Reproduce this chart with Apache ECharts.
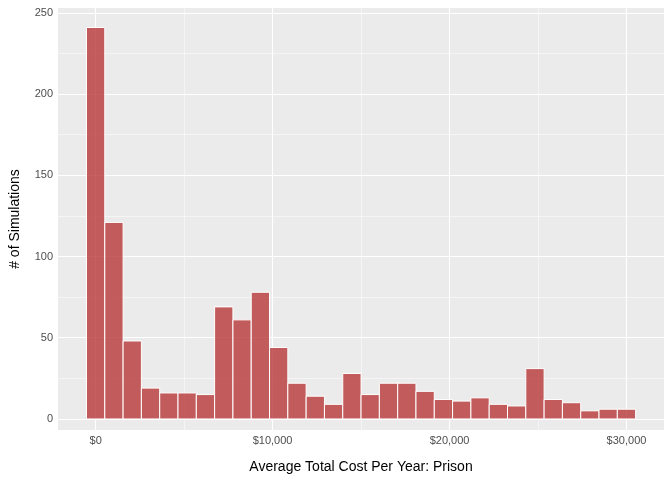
<!DOCTYPE html>
<html><head><meta charset="utf-8">
<script src="https://cdn.jsdelivr.net/npm/echarts@6/dist/echarts.min.js"></script>
<style>html,body{margin:0;background:#fff}#c{width:672px;height:480px}</style>
</head><body><div id="c"></div>
<script>
// histogram counts, one per bin
const counts = [241,121,48,19,16,16,15,69,61,78,44,22,14,9,28,15,22,22,17,12,11,13,9,8,31,12,10,5,6,6];
const binCenters = counts.map((_, i) => i * 30000 / 29);
const binWidth = 30000 / 29;
const xTicks = [0, 10000, 20000, 30000];
const xMinor = [5000, 15000, 25000];
const yTicks = [0, 50, 100, 150, 200, 250];
const yMinor = [25, 75, 125, 175, 225];

const fmt = v => '$' + v.toLocaleString('en-US');
const lines = (axis, vals, w) => vals.map(v => ({[axis]: v, lineStyle: {color: '#fff', width: w, type: 'solid'}}));

let chart = echarts.init(document.getElementById('c'));
chart.setOption({
	animation: false,
	backgroundColor: '#fff',
	grid: {left: 52, right: 8, top: 8, bottom: 50, show: true, backgroundColor: '#EBEBEB', borderWidth: 0},
	xAxis: {
		type: 'value', min: -2127, max: 32120,
		name: 'Average Total Cost Per Year: Prison', nameLocation: 'middle', nameGap: 30,
		nameTextStyle: {color: '#000', fontSize: 14, fontFamily: 'Liberation Sans'},
		axisLine: {show: false}, splitLine: {show: false},
		axisTick: {customValues: xTicks, length: 3, lineStyle: {color: '#333'}},
		axisLabel: {customValues: xTicks, formatter: fmt, color: '#4D4D4D', fontSize: 11, margin: 5, fontFamily: 'Liberation Sans'}
	},
	yAxis: {
		type: 'value', min: -6.8, max: 253,
		name: '# of Simulations', nameLocation: 'middle', nameGap: 36,
		nameTextStyle: {color: '#000', fontSize: 14, fontFamily: 'Liberation Sans'},
		axisLine: {show: false}, splitLine: {show: false},
		axisTick: {customValues: yTicks, length: 3, lineStyle: {color: '#333'}},
		axisLabel: {customValues: yTicks, color: '#4D4D4D', fontSize: 11, margin: 5, fontFamily: 'Liberation Sans'}
	},
	series: [{
		type: 'custom',
		data: counts.map((v, i) => [binCenters[i], v]),
		renderItem: (params, api) => {
			const c = api.value(0), v = api.value(1);
			const p1 = api.coord([c - binWidth / 2, v]);
			const p2 = api.coord([c + binWidth / 2, 0]);
			return {type: 'rect', shape: {x: p1[0], y: p1[1], width: p2[0] - p1[0], height: p2[1] - p1[1]},
				style: {fill: 'rgba(178,34,34,0.72)', stroke: '#fff', lineWidth: 1}};
		},
		z: 3,
		markLine: {
			silent: true, symbol: 'none', label: {show: false}, animation: false, z: 1,
			data: [].concat(lines('xAxis', xMinor, 0.5), lines('yAxis', yMinor, 0.5),
				lines('xAxis', xTicks, 1.1), lines('yAxis', yTicks, 1.1))
		}
	}]
});
</script></body></html>
